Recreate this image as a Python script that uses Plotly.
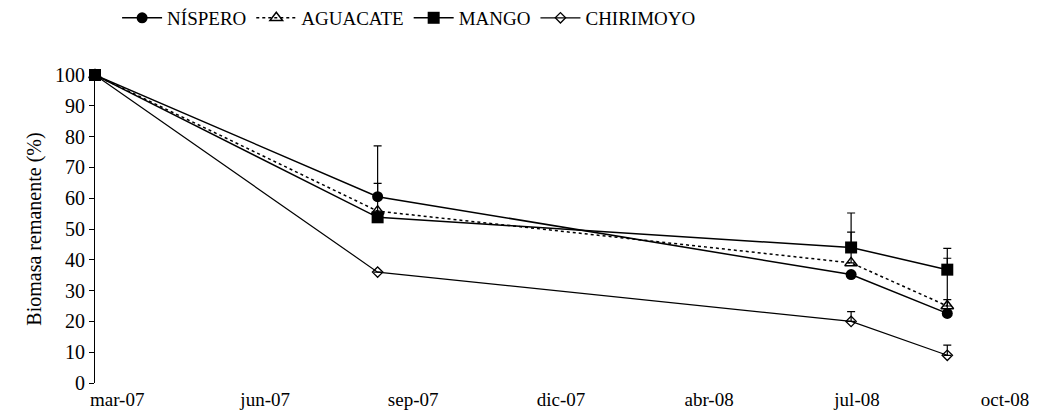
import plotly.graph_objects as go

# x = days since first sampling; axis labels every 100 days
tick_vals = [15, 115, 215, 315, 415, 515, 615]
tick_text = ["mar-07", "jun-07", "sep-07", "dic-07", "abr-08", "jul-08", "oct-08"]

days = [0, 191, 511, 576]

nispero = [100, 60.5, 35.2, 22.6]
nispero_err = [0, 16.5, 0, 4.5]

aguacate = [100, 55.8, 39.0, 25.0]
aguacate_err = [0, 0, 10.0, 15.5]

mango = [100, 53.8, 44.0, 36.8]
mango_err = [0, 11.0, 11.2, 6.9]

chirimoyo = [100, 36.0, 20.0, 9.0]
chirimoyo_err = [0, 0, 3.2, 3.3]

FF = "Times, Liberation Serif, Times New Roman, serif"

def err(arr):
    return dict(type="data", array=arr, arrayminus=[0] * len(arr), symmetric=False,
                color="black", thickness=1.2, width=4)

fig = go.Figure()
fig.add_trace(go.Scatter(x=days, y=nispero, name="NÍSPERO", mode="lines+markers",
                         line=dict(color="black", width=1.5),
                         marker=dict(symbol="circle", size=11, color="black"),
                         error_y=err(nispero_err), cliponaxis=False))
fig.add_trace(go.Scatter(x=days, y=aguacate, name="AGUACATE", mode="lines+markers",
                         line=dict(color="black", width=1.5, dash="dot"),
                         marker=dict(symbol="triangle-up-open", size=11, color="black",
                                     line=dict(width=1.5)),
                         error_y=err(aguacate_err), cliponaxis=False))
fig.add_trace(go.Scatter(x=days, y=mango, name="MANGO", mode="lines+markers",
                         line=dict(color="black", width=1.5),
                         marker=dict(symbol="square", size=12, color="black"),
                         error_y=err(mango_err), cliponaxis=False))
fig.add_trace(go.Scatter(x=days, y=chirimoyo, name="CHIRIMOYO", mode="lines+markers",
                         line=dict(color="black", width=1.2),
                         marker=dict(symbol="diamond-open", size=8, color="black",
                                     line=dict(width=1.3)),
                         error_y=err(chirimoyo_err), cliponaxis=False))

fig.update_layout(
    width=1039, height=414,
    margin=dict(l=87, r=42, t=67, b=39),
    paper_bgcolor="white", plot_bgcolor="white",
    font=dict(family=FF, size=19, color="black"),
    showlegend=True,
    legend=dict(orientation="h", xref="container", yref="container",
                x=0.105, y=0.976, xanchor="left", yanchor="middle",
                font=dict(family=FF, size=19, color="black"),
                itemwidth=40, tracegroupgap=0),
    xaxis=dict(range=[0, 615], tickvals=tick_vals, ticktext=tick_text,
               showgrid=False, zeroline=False, showline=False, ticks="",
               tickfont=dict(family=FF, size=19, color="black"), ticklabelstandoff=3),
    yaxis=dict(range=[0, 100], dtick=10, showgrid=False, zeroline=False,
               showline=True, linecolor="black", linewidth=1,
               ticks="outside", ticklen=5, tickcolor="black",
               tickfont=dict(family=FF, size=20, color="black"),
               title=dict(text="Biomasa remanente (%)",
                          font=dict(family=FF, size=20, color="black"), standoff=8)),
)

fig.write_html("out.html")
